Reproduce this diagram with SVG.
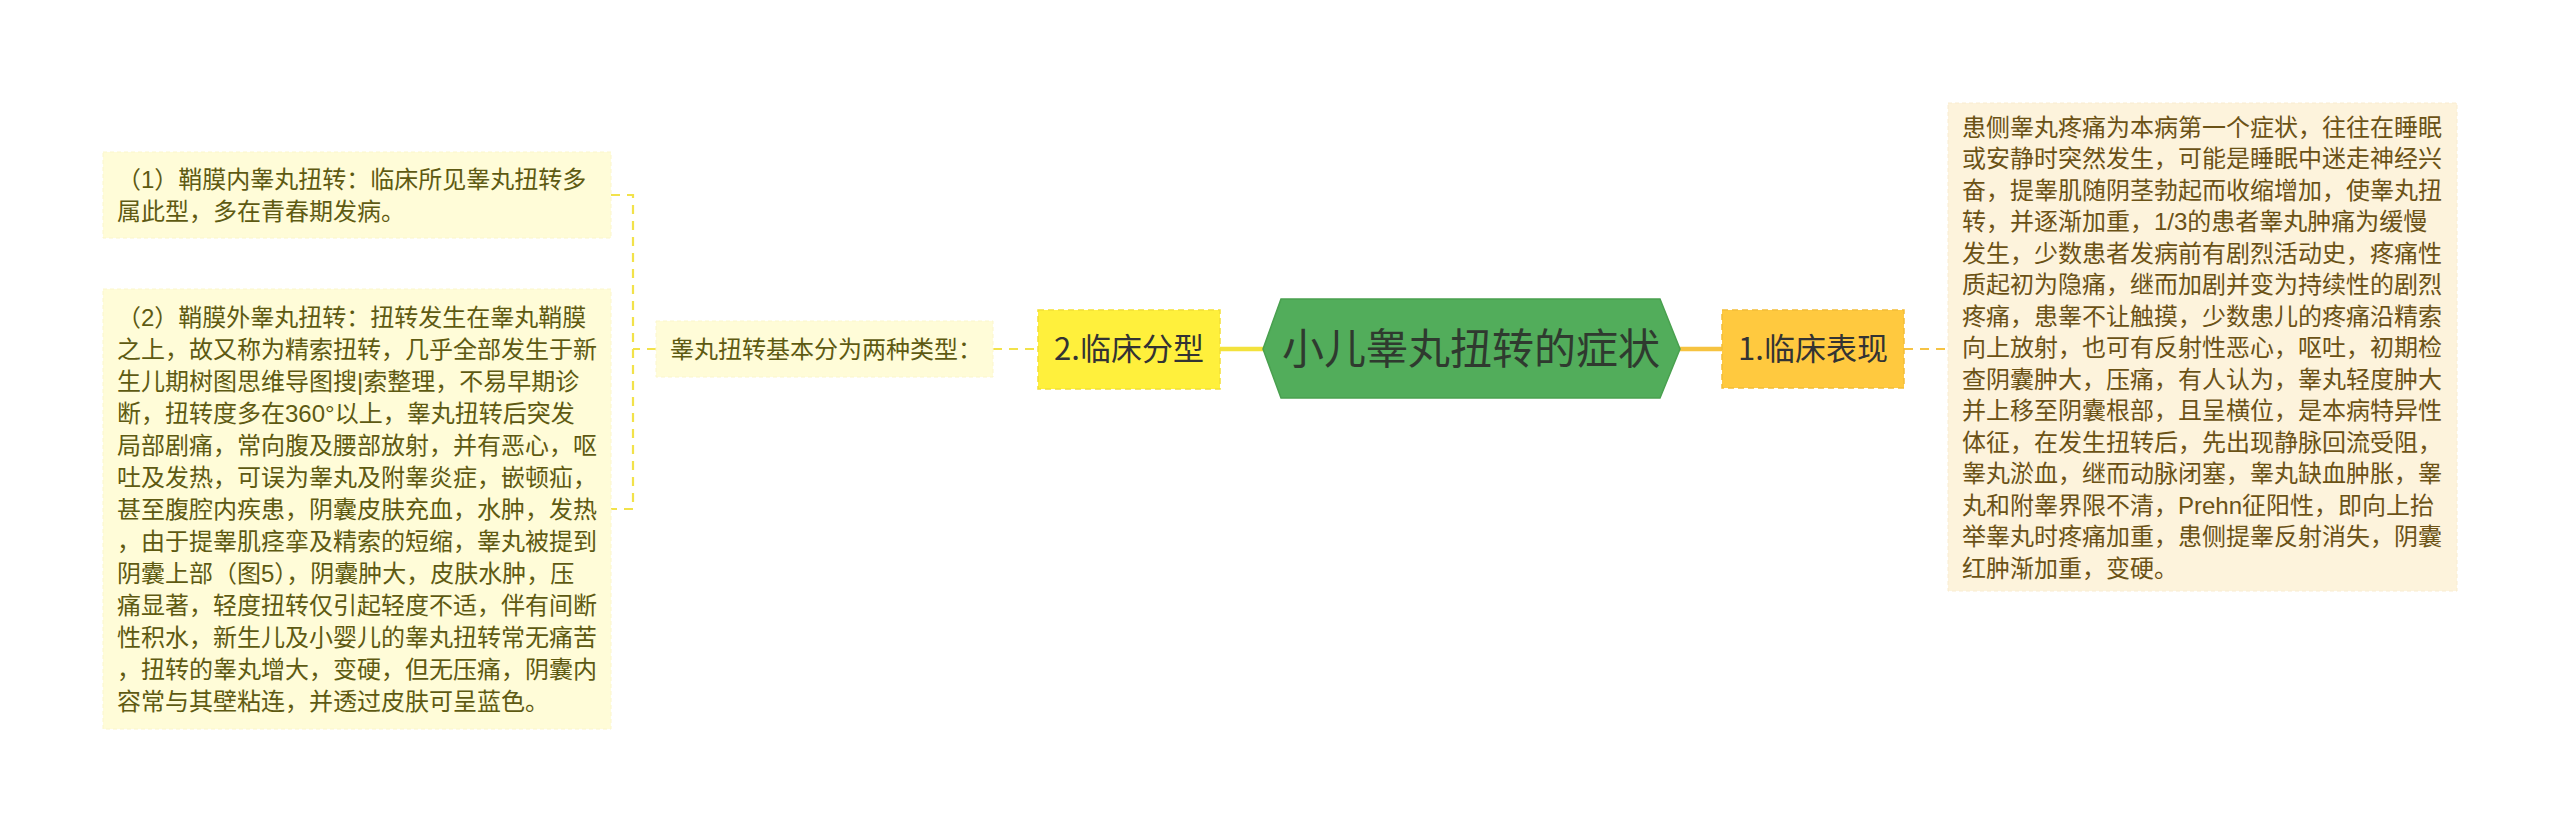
<svg xmlns="http://www.w3.org/2000/svg" width="2560" height="821" viewBox="0 0 2560 821">
<style>
.t{font-family:"Liberation Sans","Noto Sans CJK SC",sans-serif;font-size:24px;}
.lt{fill:#5e5a12;}
.rt{fill:#6b5216;}
.lbox{fill:#fffcd8;stroke:#fbf6cc;stroke-width:1;stroke-dasharray:4 3;}
.rbox{fill:#fdf3dc;stroke:#f9ecd0;stroke-width:1;stroke-dasharray:4 3;}
.dy{fill:none;stroke:#f2e24a;stroke-width:2.2;stroke-dasharray:9 7;}
.do{fill:none;stroke:#f6c344;stroke-width:2.2;stroke-dasharray:9 7;}
</style>
<rect width="2560" height="821" fill="#ffffff"/>
<g id="connectors">
<line x1="1218" y1="349" x2="1264" y2="349" stroke="#f3e23c" stroke-width="4.5"/>
<line x1="1679" y1="349" x2="1722" y2="349" stroke="#f6c340" stroke-width="4.5"/>
<line class="do" x1="1904" y1="349" x2="1948" y2="349"/>
<line class="dy" x1="993" y1="349" x2="1038" y2="349"/>
<path class="dy" d="M656 349 H633 M611 195 H633 V509 H611"/>
</g>
<g id="root">
<polygon points="1263,349 1281,299 1660,299 1680,349 1660,398 1281,398" fill="#52ad5b" stroke="#49a04f" stroke-width="1.5"/>
<text x="1471" y="364" text-anchor="middle" font-family="'Noto Sans CJK SC',sans-serif" font-size="42" fill="#2f3a2f">小儿睾丸扭转的症状</text>
</g>
<g id="n1">
<rect x="1722" y="310" width="182" height="78" fill="#ffc93f" stroke="#f3bd38" stroke-width="1.5" stroke-dasharray="6 4"/>
<text x="1813" y="360" text-anchor="middle" font-family="'Noto Sans CJK SC',sans-serif" font-size="31" fill="#333333">1.临床表现</text>
</g>
<g id="n1a">
<rect class="rbox" x="1948" y="103" width="509" height="488"/>
<text class="t rt">
<tspan x="1962" y="135.5">患侧睾丸疼痛为本病第一个症状，往往在睡眠</tspan>
<tspan x="1962" y="167">或安静时突然发生，可能是睡眠中迷走神经兴</tspan>
<tspan x="1962" y="198.5">奋，提睾肌随阴茎勃起而收缩增加，使睾丸扭</tspan>
<tspan x="1962" y="230">转，并逐渐加重，1/3的患者睾丸肿痛为缓慢</tspan>
<tspan x="1962" y="261.5">发生，少数患者发病前有剧烈活动史，疼痛性</tspan>
<tspan x="1962" y="293">质起初为隐痛，继而加剧并变为持续性的剧烈</tspan>
<tspan x="1962" y="324.5">疼痛，患睾不让触摸，少数患儿的疼痛沿精索</tspan>
<tspan x="1962" y="356">向上放射，也可有反射性恶心，呕吐，初期检</tspan>
<tspan x="1962" y="387.5">查阴囊肿大，压痛，有人认为，睾丸轻度肿大</tspan>
<tspan x="1962" y="419">并上移至阴囊根部，且呈横位，是本病特异性</tspan>
<tspan x="1962" y="450.5">体征，在发生扭转后，先出现静脉回流受阻，</tspan>
<tspan x="1962" y="482">睾丸淤血，继而动脉闭塞，睾丸缺血肿胀，睾</tspan>
<tspan x="1962" y="513.5">丸和附睾界限不清，Prehn征阳性，即向上抬</tspan>
<tspan x="1962" y="545">举睾丸时疼痛加重，患侧提睾反射消失，阴囊</tspan>
<tspan x="1962" y="576.5">红肿渐加重，变硬。</tspan>
</text>
</g>
<g id="n2">
<rect x="1038" y="310" width="182" height="79" fill="#fff03c" stroke="#f3e033" stroke-width="1.5" stroke-dasharray="6 4"/>
<text x="1129" y="360" text-anchor="middle" font-family="'Noto Sans CJK SC',sans-serif" font-size="31" fill="#333333">2.临床分型</text>
</g>
<g id="n2a">
<rect class="lbox" x="656" y="321" width="337" height="56"/>
<text class="t lt" x="670" y="357.5">睾丸扭转基本分为两种类型：</text>
</g>
<g id="n2a1">
<rect class="lbox" x="103" y="152" width="508" height="86"/>
<text class="t lt">
<tspan x="117" y="188">（1）鞘膜内睾丸扭转：临床所见睾丸扭转多</tspan>
<tspan x="117" y="220">属此型，多在青春期发病。</tspan>
</text>
</g>
<g id="n2a2">
<rect class="lbox" x="103" y="289" width="508" height="440"/>
<text class="t lt">
<tspan x="117" y="325.5">（2）鞘膜外睾丸扭转：扭转发生在睾丸鞘膜</tspan>
<tspan x="117" y="357.5">之上，故又称为精索扭转，几乎全部发生于新</tspan>
<tspan x="117" y="389.5">生儿期树图思维导图搜|索整理，不易早期诊</tspan>
<tspan x="117" y="421.5">断，扭转度多在360°以上，睾丸扭转后突发</tspan>
<tspan x="117" y="453.5">局部剧痛，常向腹及腰部放射，并有恶心，呕</tspan>
<tspan x="117" y="485.5">吐及发热，可误为睾丸及附睾炎症，嵌顿疝，</tspan>
<tspan x="117" y="517.5">甚至腹腔内疾患，阴囊皮肤充血，水肿，发热</tspan>
<tspan x="117" y="549.5">，由于提睾肌痉挛及精索的短缩，睾丸被提到</tspan>
<tspan x="117" y="581.5">阴囊上部（图5），阴囊肿大，皮肤水肿，压</tspan>
<tspan x="117" y="613.5">痛显著，轻度扭转仅引起轻度不适，伴有间断</tspan>
<tspan x="117" y="645.5">性积水，新生儿及小婴儿的睾丸扭转常无痛苦</tspan>
<tspan x="117" y="677.5">，扭转的睾丸增大，变硬，但无压痛，阴囊内</tspan>
<tspan x="117" y="709.5">容常与其壁粘连，并透过皮肤可呈蓝色。</tspan>
</text>
</g>
</svg>
